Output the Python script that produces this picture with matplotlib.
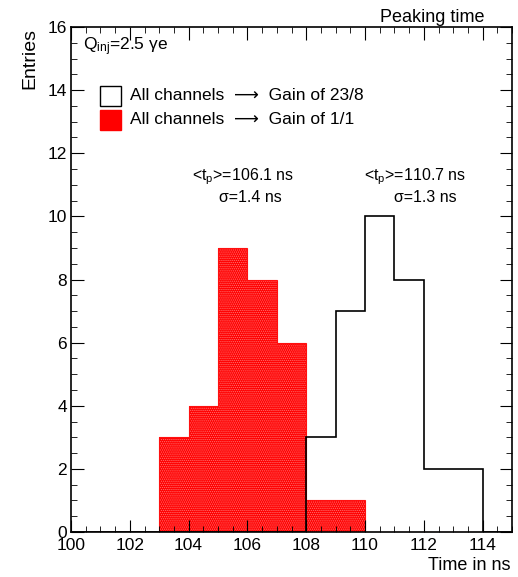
import numpy as np
import matplotlib
matplotlib.use("Agg")
import matplotlib.pyplot as plt
from matplotlib.patches import Rectangle
from matplotlib.ticker import MultipleLocator

# ---- data (1 ns bins) ----
bin_edges = np.arange(100, 116, 1)                 # 100..115
gain_1_1 = [0, 0, 0, 3, 4, 9, 8, 6, 1, 1, 0, 0, 0, 0, 0]
gain_23_8 = [0, 0, 0, 0, 0, 0, 0, 0, 3, 7, 10, 8, 2, 2, 0]
legend_labels = ["All channels  \u27f6  Gain of 23/8",
                 "All channels  \u27f6  Gain of 1/1"]
qinj_label = "Q$_{\\rm inj}$=2.5 \u03b3e"
stats_1_1 = [r"<t$_{\rm p}$>=106.1 ns", "\u03c3=1.4 ns"]
stats_23_8 = [r"<t$_{\rm p}$>=110.7 ns", "\u03c3=1.3 ns"]

plt.rcParams["font.family"] = ["Liberation Sans", "DejaVu Sans"]
plt.rcParams["mathtext.fontset"] = "custom"
plt.rcParams["mathtext.rm"] = "Liberation Sans"
plt.rcParams["mathtext.it"] = "Liberation Sans:italic"
plt.rcParams["hatch.linewidth"] = 0.6

fig = plt.figure(figsize=(5.18, 5.77), dpi=100)
ax = fig.add_axes([71 / 518, 45 / 577, 441 / 518, 505 / 577])

ax.stairs(gain_1_1, bin_edges, fill=True, facecolor="#ff0000", edgecolor="#ff7070",
          hatch="........", lw=0)
ax.stairs(gain_1_1, bin_edges, color="#ff1010", lw=0.8)
ax.stairs(gain_23_8, bin_edges, color="black", lw=1.2)

ax.set_xlim(100, 115)
ax.set_ylim(0, 16)
ax.xaxis.set_major_locator(MultipleLocator(2))
ax.xaxis.set_minor_locator(MultipleLocator(0.5))
ax.yaxis.set_major_locator(MultipleLocator(2))
ax.yaxis.set_minor_locator(MultipleLocator(0.5))
ax.tick_params(which="both", direction="in", top=True, right=True, labelsize=12.5)
ax.tick_params(which="major", length=9)
ax.tick_params(which="minor", length=4.5)
ax.tick_params(axis="y", pad=3)
ax.tick_params(axis="x", pad=4)
for s in ax.spines.values():
    s.set_linewidth(1.2)

fig.text(485 / 518, 1 - 17 / 577, "Peaking time", ha="right", va="center", fontsize=13)
fig.text(30 / 518, 1 - 28 / 577, "Entries", rotation=90, ha="center", va="top", fontsize=14)
fig.text(510 / 518, 1 - 565 / 577, "Time in ns", ha="right", va="center", fontsize=13)

fig.text(83 / 518, 1 - 47 / 577, qinj_label, ha="left", va="center", fontsize=12.5)

# legend boxes
fig.patches.append(Rectangle((100 / 518, 1 - 106 / 577), 21 / 518, 20 / 577,
                             transform=fig.transFigure, facecolor="white",
                             edgecolor="black", lw=1))
fig.patches.append(Rectangle((100 / 518, 1 - 130 / 577), 21 / 518, 20 / 577,
                             transform=fig.transFigure, facecolor="#ff0000",
                             edgecolor="#ff0000", lw=1))
fig.text(130 / 518, 1 - 96 / 577, legend_labels[0], ha="left", va="center", fontsize=12.5)
fig.text(130 / 518, 1 - 120 / 577, legend_labels[1], ha="left", va="center", fontsize=12.5)

fig.text(243 / 518, 1 - 177 / 577, stats_1_1[0], ha="center", va="center", fontsize=11.5)
fig.text(250 / 518, 1 - 197 / 577, stats_1_1[1], ha="center", va="center", fontsize=11.5)
fig.text(415 / 518, 1 - 177 / 577, stats_23_8[0], ha="center", va="center", fontsize=11.5)
fig.text(425 / 518, 1 - 197 / 577, stats_23_8[1], ha="center", va="center", fontsize=11.5)

fig.savefig("out.png", dpi=100)
